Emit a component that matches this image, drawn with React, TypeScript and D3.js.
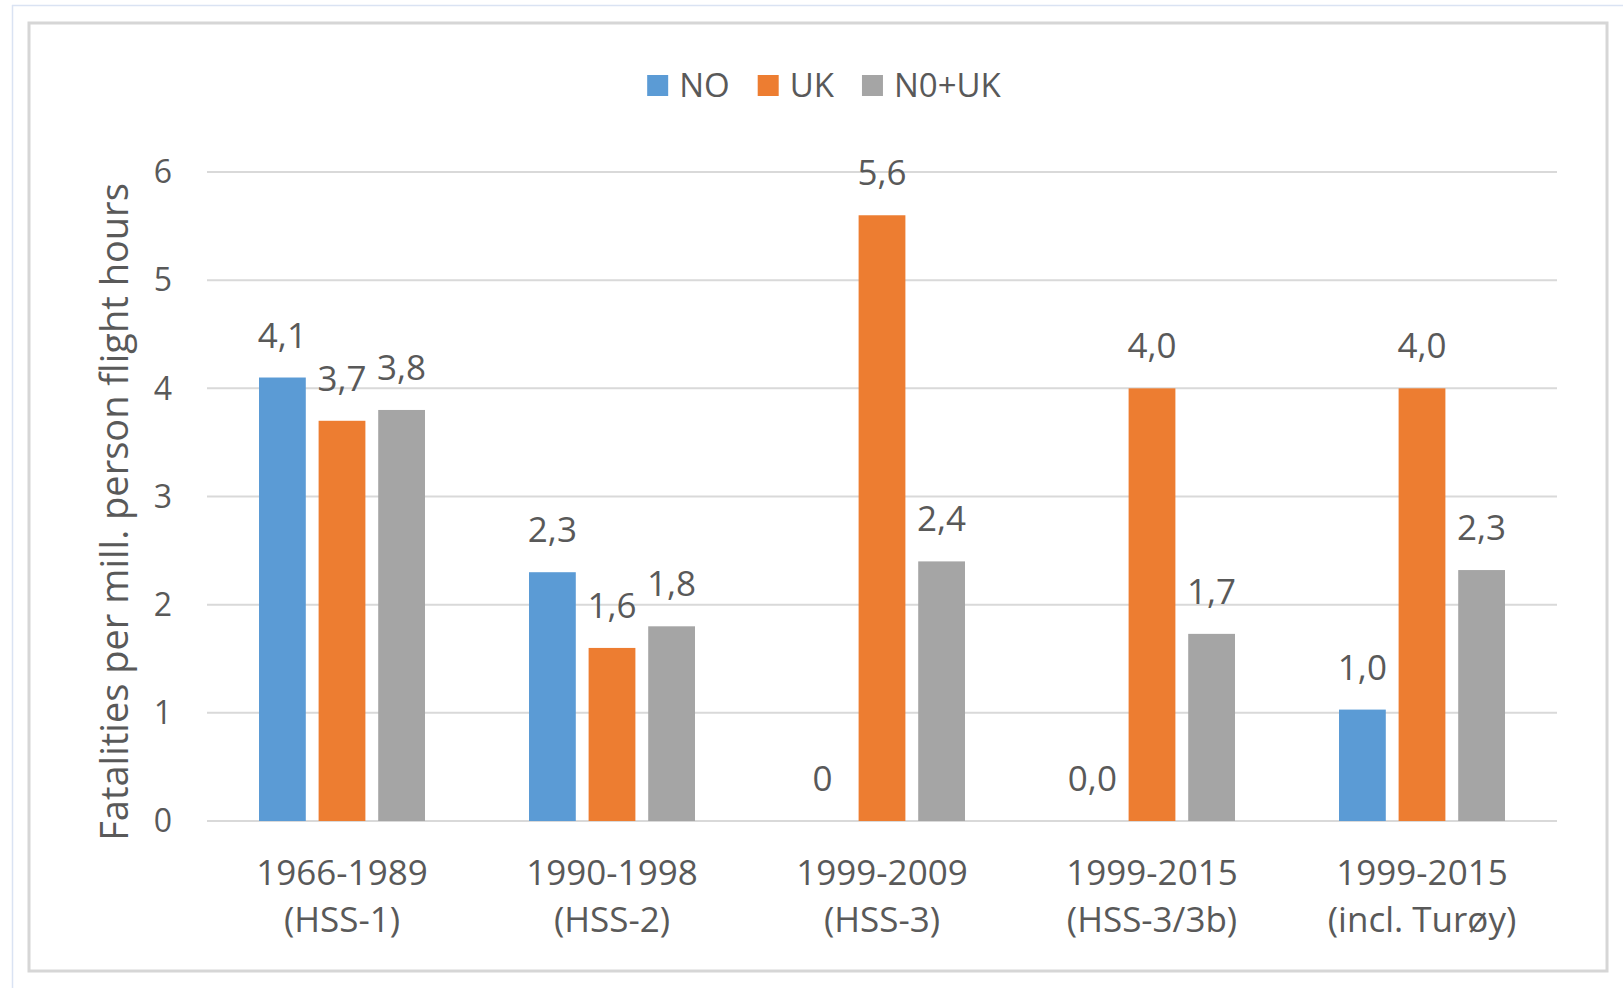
import { useEffect, useRef } from 'react';
import * as d3 from 'd3';

const periods = ["1966-1989", "1990-1998", "1999-2009", "1999-2015", "1999-2015"];
const periodNotes = ["(HSS-1)", "(HSS-2)", "(HSS-3)", "(HSS-3/3b)", "(incl. Turøy)"];
const seriesNames = ["NO", "UK", "N0+UK"];
const seriesColors = ["#5b9bd5", "#ed7d31", "#a5a5a5"];
const noValues = [4.1, 2.3, 0, 0, 1.03];
const ukValues = [3.7, 1.6, 5.6, 4.0, 4.0];
const bothValues = [3.8, 1.8, 2.4, 1.73, 2.32];
const noLabels = ["4,1", "2,3", "0", "0,0", "1,0"];
const ukLabels = ["3,7", "1,6", "5,6", "4,0", "4,0"];
const bothLabels = ["3,8", "1,8", "2,4", "1,7", "2,3"];
const yTicks = [0, 1, 2, 3, 4, 5, 6];
const yTitle = "Fatalities per mill. person flight hours";

const W = 1623;
const H = 988;
const FONT = "'Open Sans', 'Liberation Sans', sans-serif";
const TEXT = "#595959";

export default function App() {
  const svgRef = useRef<SVGSVGElement>(null);

  useEffect(() => {
    if (!svgRef.current) return;
    const svg = d3.select(svgRef.current);
    svg.selectAll("*").remove();

    const margin = { top: 172, right: 66, bottom: 167, left: 207 };

    const x0 = d3.scaleBand<number>()
      .domain(periods.map((_, i) => i))
      .range([margin.left, W - margin.right])
      .padding(0);

    const x1 = d3.scaleBand<string>()
      .domain(seriesNames)
      .range([52, x0.bandwidth() - 52])
      .paddingInner(0.215);

    const y = d3.scaleLinear()
      .domain([0, 6])
      .range([H - margin.bottom, margin.top]);

    // frames
    svg.append("line").attr("x1", 12.5).attr("x2", 12.5).attr("y1", 5).attr("y2", H)
      .attr("stroke", "#dae3f3").attr("stroke-width", 1.5);
    svg.append("line").attr("x1", 12).attr("x2", W).attr("y1", 5.5).attr("y2", 5.5)
      .attr("stroke", "#dae3f3").attr("stroke-width", 1.5);
    svg.append("rect")
      .attr("x", 29).attr("y", 23).attr("width", 1578).attr("height", 948)
      .attr("fill", "white").attr("stroke", "#d6d6d6").attr("stroke-width", 3);

    // gridlines
    svg.append("g").selectAll("line").data(yTicks).join("line")
      .attr("x1", margin.left).attr("x2", W - margin.right)
      .attr("y1", d => y(d)).attr("y2", d => y(d))
      .attr("stroke", "#d9d9d9").attr("stroke-width", 2);

    // y tick labels
    svg.append("g").selectAll("text").data(yTicks).join("text")
      .attr("x", 172).attr("y", d => y(d))
      .attr("dy", "0.35em")
      .attr("text-anchor", "end")
      .attr("font-family", FONT).attr("font-size", 32).attr("fill", TEXT)
      .text(d => d);

    // y title
    svg.append("text")
      .attr("transform", `translate(128,512) rotate(-90)`)
      .attr("text-anchor", "middle")
      .attr("font-family", FONT).attr("font-size", 38).attr("fill", TEXT)
      .text(yTitle);

    const series = [
      { name: seriesNames[0], values: noValues, labels: noLabels, color: seriesColors[0] },
      { name: seriesNames[1], values: ukValues, labels: ukLabels, color: seriesColors[1] },
      { name: seriesNames[2], values: bothValues, labels: bothLabels, color: seriesColors[2] },
    ];

    const groups = svg.append("g").selectAll("g").data(periods.map((_, i) => i)).join("g")
      .attr("transform", i => `translate(${x0(i)},0)`);

    groups.selectAll("rect")
      .data(i => series.map(s => ({ name: s.name, value: s.values[i], color: s.color })))
      .join("rect")
      .attr("x", d => x1(d.name) as number)
      .attr("width", x1.bandwidth())
      .attr("y", d => y(d.value))
      .attr("height", d => y(0) - y(d.value))
      .attr("fill", d => d.color);

    groups.selectAll("text.val")
      .data(i => series.map(s => ({ name: s.name, value: s.values[i], label: s.labels[i] })))
      .join("text")
      .attr("class", "val")
      .attr("x", d => (x1(d.name) as number) + x1.bandwidth() / 2)
      .attr("y", d => y(d.value) - 30)
      .attr("text-anchor", "middle")
      .attr("font-family", FONT).attr("font-size", 35).attr("fill", TEXT)
      .text(d => d.label);

    // x labels
    groups.append("text")
      .attr("x", x0.bandwidth() / 2).attr("y", 885)
      .attr("text-anchor", "middle")
      .attr("font-family", FONT).attr("font-size", 35).attr("fill", TEXT)
      .text(i => periods[i]);
    groups.append("text")
      .attr("x", x0.bandwidth() / 2).attr("y", 932)
      .attr("text-anchor", "middle")
      .attr("font-family", FONT).attr("font-size", 35).attr("fill", TEXT)
      .text(i => periodNotes[i]);

    // legend
    const legend = svg.append("g");
    const items = legend.selectAll("g").data(series).join("g");
    items.append("rect")
      .attr("width", 21).attr("height", 21).attr("y", 75)
      .attr("fill", d => d.color);
    const labels = items.append("text")
      .attr("x", 32).attr("y", 97)
      .attr("font-family", FONT).attr("font-size", 33).attr("fill", TEXT)
      .text(d => d.name);
    const widths: number[] = [];
    labels.each(function () { widths.push((this as SVGTextElement).getComputedTextLength()); });
    const gap = 28;
    const total = d3.sum(widths.map(w => 32 + w)) + gap * (widths.length - 1);
    let cx = 824 - total / 2;
    items.attr("transform", (_, i) => {
      const t = `translate(${cx},0)`;
      cx += 32 + widths[i] + gap;
      return t;
    });
  }, []);

  return (
    <div style={{ position: 'absolute', left: 0, top: 0 }}>
      <svg ref={svgRef} width={W} height={H} style={{ display: 'block', background: 'white' }} />
    </div>
  );
}
